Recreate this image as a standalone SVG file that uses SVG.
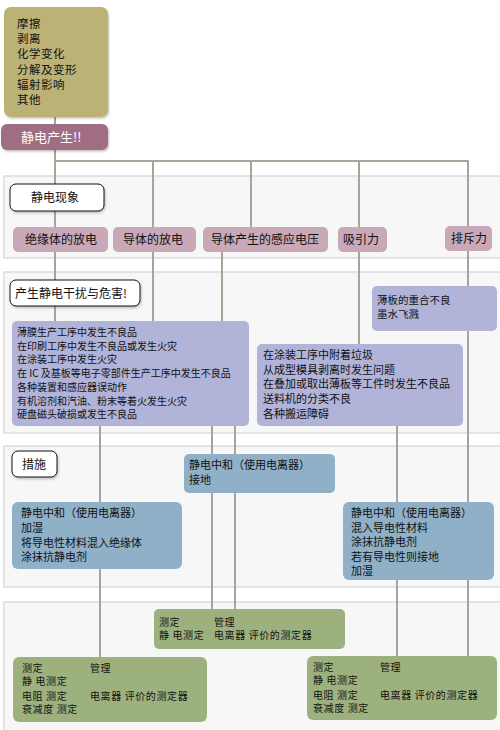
<svg xmlns="http://www.w3.org/2000/svg" width="500" height="730" viewBox="0 0 500 730">
<defs>
<filter id="sh" x="-10%" y="-10%" width="130%" height="140%">
<feDropShadow dx="1" dy="1.5" stdDeviation="1" flood-color="#000" flood-opacity="0.25"/>
</filter>
</defs>
<style>
text{font-family:"Noto Sans CJK SC","Noto Sans",sans-serif;fill:#111}
.panel{fill:#f7f7f7;stroke:#dcdcdc;stroke-width:1.5}
.lbl{fill:#fff;stroke:#111;stroke-width:1}
.src{fill:#bcb275}
.gen{fill:#a06e82}
.ph{fill:#c9a8b7}
.hz{fill:#b1b3d8}
.ms{fill:#8fb0c7}
.mt{fill:#9db17f}
.cn{stroke:#a9a498;stroke-width:2;fill:none}
.t12{font-size:12px}
.ts{font-size:11.5px;letter-spacing:0.5px}
.t13{font-size:13px}
.t10{font-size:10px}
.t11{font-size:11px}
.t105{font-size:10.5px}
.tm{font-size:10px;letter-spacing:0.6px}
</style>
<rect class="panel" x="4" y="176" width="510" height="82"/>
<rect class="panel" x="4" y="272" width="510" height="161"/>
<rect class="panel" x="4" y="446" width="510" height="141"/>
<rect class="panel" x="4" y="602" width="510" height="140"/>
<g id="connectors">
<path class="cn" d="M55 117V322M55 161H468V657M153 161V322M251 161V230M359 161V345M222 250V322M100 425V657M212 425V610M235 425V610M397 426V657"/>
</g>
<g id="sources">
<rect class="src" x="4" y="7" width="104" height="110" rx="7" filter="url(#sh)"/>
<text class="ts"><tspan x="17" y="28">摩擦</tspan><tspan x="17" y="43.2">剥离</tspan><tspan x="17" y="58.4">化学变化</tspan><tspan x="17" y="73.6">分解及变形</tspan><tspan x="17" y="88.8">辐射影响</tspan><tspan x="17" y="104">其他</tspan></text>
</g>
<g id="generation">
<rect class="gen" x="1" y="124" width="107" height="26" rx="6" filter="url(#sh)"/>
<text class="t13" x="21" y="142" style="fill:#fff">静电产生!!</text>
</g>
<g id="label-phenomena">
<rect class="lbl" x="10" y="184" width="94" height="27" rx="6" filter="url(#sh)"/>
<text class="t12" x="55" y="202" text-anchor="middle">静电现象</text>
</g>
<g id="ph-insulator">
<rect class="ph" x="13" y="227" width="95" height="25" rx="5"/>
<text class="t12" x="25" y="244">绝缘体的放电</text>
</g>
<g id="ph-conductor">
<rect class="ph" x="113" y="227" width="83" height="25" rx="5"/>
<text class="t12" x="123" y="244">导体的放电</text>
</g>
<g id="ph-induced">
<rect class="ph" x="203" y="227" width="125" height="25" rx="5"/>
<text class="t12" x="211" y="244">导体产生的感应电压</text>
</g>
<g id="ph-attract">
<rect class="ph" x="338" y="227" width="49" height="25" rx="5"/>
<text class="t12" x="343" y="244">吸引力</text>
</g>
<g id="ph-repel">
<rect class="ph" x="445" y="226" width="47" height="25" rx="5"/>
<text class="t12" x="451" y="243">排斥力</text>
</g>
<g id="label-harm">
<rect class="lbl" x="10" y="280" width="130" height="26" rx="6" filter="url(#sh)"/>
<text class="t12" x="15" y="297.5">产生静电干扰与危害!</text>
</g>
<g id="harm-left">
<rect class="hz" x="12" y="321" width="237" height="105" rx="5"/>
<text class="t10"><tspan x="17" y="336">薄膜生产工序中发生不良品</tspan><tspan x="17" y="349.7">在印刷工序中发生不良品或发生火灾</tspan><tspan x="17" y="363.4">在涂装工序中发生火灾</tspan><tspan x="17" y="377.1">在 IC 及基板等电子零部件生产工序中发生不良品</tspan><tspan x="17" y="390.8">各种装置和感应器误动作</tspan><tspan x="17" y="404.5">有机溶剂和汽油、粉末等着火发生火灾</tspan><tspan x="17" y="418.2">硬盘磁头破损或发生不良品</tspan></text>
</g>
<g id="harm-right-top">
<rect class="hz" x="372" y="286" width="125" height="45" rx="5"/>
<text class="t105"><tspan x="377" y="303.5">薄板的重合不良</tspan><tspan x="377" y="317.5">墨水飞溅</tspan></text>
</g>
<g id="harm-right">
<rect class="hz" x="257" y="344" width="206" height="82" rx="5"/>
<text class="t11"><tspan x="263" y="359">在涂装工序中附着垃圾</tspan><tspan x="263" y="373.5">从成型模具剥离时发生问题</tspan><tspan x="263" y="388">在叠加或取出薄板等工件时发生不良品</tspan><tspan x="263" y="402.5">送料机的分类不良</tspan><tspan x="263" y="418">各种搬运障碍</tspan></text>
</g>
<g id="label-measures">
<rect class="lbl" x="12" y="451" width="45" height="26" rx="6" filter="url(#sh)"/>
<text class="t12" x="22" y="468.5">措施</text>
</g>
<g id="measure-mid">
<rect class="ms" x="184" y="454" width="151" height="39" rx="5"/>
<text class="t11"><tspan x="189" y="469">静电中和（使用电离器）</tspan><tspan x="189" y="484">接地</tspan></text>
</g>
<g id="measure-left">
<rect class="ms" x="12" y="502" width="170" height="67" rx="6"/>
<text class="t11"><tspan x="21" y="517">静电中和（使用电离器）</tspan><tspan x="21" y="532">加湿</tspan><tspan x="21" y="546.5">将导电性材料混入绝缘体</tspan><tspan x="21" y="561">涂抹抗静电剂</tspan></text>
</g>
<g id="measure-right">
<rect class="ms" x="343" y="502" width="151" height="78" rx="6"/>
<text class="t11"><tspan x="351" y="517">静电中和（使用电离器）</tspan><tspan x="351" y="531.5">混入导电性材料</tspan><tspan x="351" y="546">涂抹抗静电剂</tspan><tspan x="351" y="560.5">若有导电性则接地</tspan><tspan x="351" y="575">加湿</tspan></text>
</g>
<g id="meter-mid">
<rect class="mt" x="154" y="609" width="191" height="40" rx="5"/>
<text class="tm"><tspan x="159" y="625.5">测定</tspan><tspan x="214" y="625.5">管理</tspan><tspan x="159" y="639">静 电测定</tspan><tspan x="214" y="639">电离器 评价的测定器</tspan></text>
</g>
<g id="meter-left">
<rect class="mt" x="13" y="657" width="194" height="65" rx="6"/>
<text class="tm"><tspan x="22" y="671.5">测定</tspan><tspan x="90" y="671.5">管理</tspan><tspan x="22" y="685">静 电测定</tspan><tspan x="22" y="699.5">电阻 测定</tspan><tspan x="90" y="699.5">电离器 评价的测定器</tspan><tspan x="22" y="713">衰减度 测定</tspan></text>
</g>
<g id="meter-right">
<rect class="mt" x="307" y="656" width="190" height="64" rx="6"/>
<text class="tm"><tspan x="313" y="670.5">测定</tspan><tspan x="380" y="670.5">管理</tspan><tspan x="313" y="684">静 电测定</tspan><tspan x="313" y="698.5">电阻 测定</tspan><tspan x="380" y="698.5">电离器 评价的测定器</tspan><tspan x="313" y="712">衰减度 测定</tspan></text>
</g>
</svg>
